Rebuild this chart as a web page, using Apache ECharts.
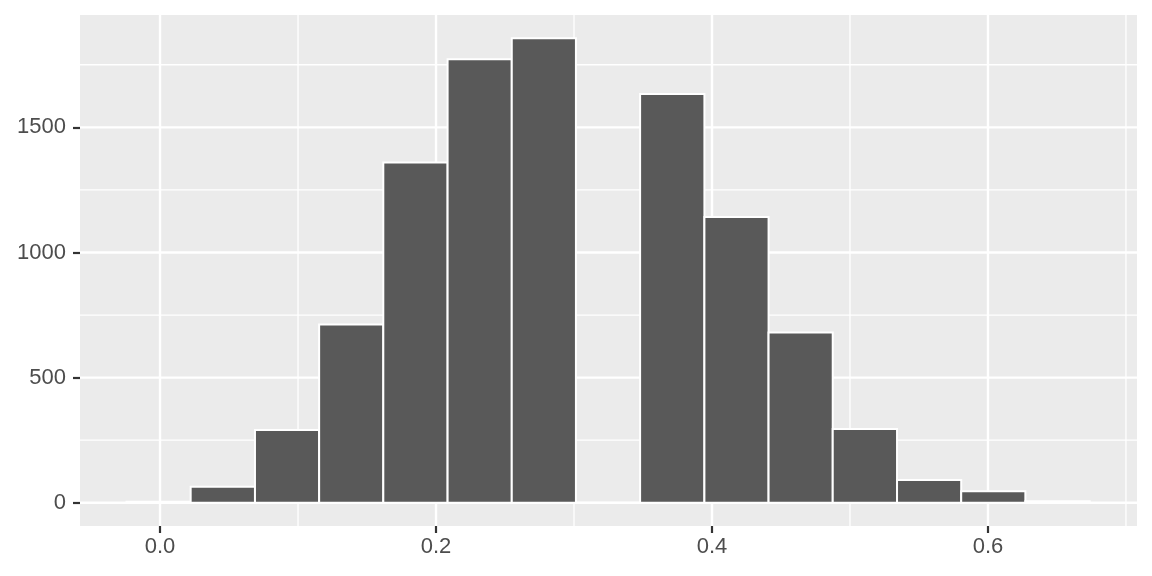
<!DOCTYPE html>
<html>
<head>
<meta charset="utf-8">
<title>histogram</title>
<script src="https://cdn.jsdelivr.net/npm/echarts@6/dist/echarts.min.js"></script>
<style>
  html, body { margin: 0; padding: 0; background: #ffffff; }
  #chart { width: 1152px; height: 576px; }
</style>
</head>
<body>
<div id="chart"></div>
<script>
// bin edges (x units)
var binEdges = [-0.0243, 0.0222, 0.0688, 0.1153, 0.1618, 0.2084, 0.2549, 0.3014,
  0.3479, 0.3945, 0.4410, 0.4875, 0.5341, 0.5806, 0.6271, 0.6737]
// counts per bin
var binCounts = [4, 64, 291, 712, 1359, 1772, 1856, 0, 1633, 1142, 680, 295, 91, 46, 6]

// tick labels / grid breaks
var xMajor = [0, 0.2, 0.4, 0.6]
var xMinor = [0.1, 0.3, 0.5, 0.7]
var yMajor = [0, 500, 1000, 1500]
var yMinor = [250, 750, 1250, 1750]

// histogram data: [start, end, count]
var bars = binCounts.map(function (c, i) {
  return [binEdges[i], binEdges[i + 1], c]
})

// grid lines: [value, 0 = vertical / 1 = horizontal, width]
var gridLines = []
xMinor.forEach(function (v) { gridLines.push([v, 0, 1.3]) })
yMinor.forEach(function (v) { gridLines.push([v, 1, 1.3]) })
xMajor.forEach(function (v) { gridLines.push([v, 0, 2.4]) })
yMajor.forEach(function (v) { gridLines.push([v, 1, 2.4]) })

var labelStyle = {
  color: '#4D4D4D',
  fontSize: 22,
  fontFamily: 'Liberation Sans, Arial, sans-serif'
}

var chart = echarts.init(document.getElementById('chart'), null, { renderer: 'canvas' })

chart.setOption({
  animation: false,
  grid: {
    left: 80,
    right: 15,
    top: 15,
    bottom: 50,
    show: true,
    backgroundColor: '#EBEBEB',
    borderWidth: 0
  },
  xAxis: {
    type: 'value',
    min: -0.058,
    max: 0.708,
    axisLine: { show: false, onZero: false },
    splitLine: { show: false },
    axisTick: {
      show: true,
      length: 7,
      customValues: xMajor,
      lineStyle: { color: '#333333', width: 2.2 }
    },
    axisLabel: Object.assign({
      margin: 10,
      customValues: xMajor,
      formatter: function (v) { return v.toFixed(1) }
    }, labelStyle)
  },
  yAxis: {
    type: 'value',
    min: -92.8,
    max: 1948.8,
    axisLine: { show: false, onZero: false },
    splitLine: { show: false },
    axisTick: {
      show: true,
      length: 7,
      customValues: yMajor,
      lineStyle: { color: '#333333', width: 2.2 }
    },
    axisLabel: Object.assign({
      margin: 14,
      customValues: yMajor,
      formatter: function (v) { return String(v) }
    }, labelStyle)
  },
  series: [{
    // white panel grid lines, under the bars
    type: 'custom',
    z: 1,
    silent: true,
    data: gridLines,
    renderItem: function (params, api) {
      var cs = params.coordSys
      var v = api.value(0)
      var w = api.value(2)
      if (api.value(1) === 0) {
        var x = api.coord([v, 0])[0]
        return {
          type: 'line',
          shape: { x1: x, y1: cs.y, x2: x, y2: cs.y + cs.height },
          style: { stroke: '#FFFFFF', lineWidth: w }
        }
      }
      var y = api.coord([0, v])[1]
      return {
        type: 'line',
        shape: { x1: cs.x, y1: y, x2: cs.x + cs.width, y2: y },
        style: { stroke: '#FFFFFF', lineWidth: w }
      }
    }
  }, {
    // histogram bars
    type: 'custom',
    z: 2,
    data: bars,
    encode: { x: [0, 1], y: 2 },
    renderItem: function (params, api) {
      var p0 = api.coord([api.value(0), api.value(2)])
      var p1 = api.coord([api.value(1), 0])
      return {
        type: 'rect',
        shape: { x: p0[0], y: p0[1], width: p1[0] - p0[0], height: p1[1] - p0[1] },
        style: { fill: '#595959', stroke: '#FFFFFF', lineWidth: 2 }
      }
    }
  }]
})
</script>
</body>
</html>
